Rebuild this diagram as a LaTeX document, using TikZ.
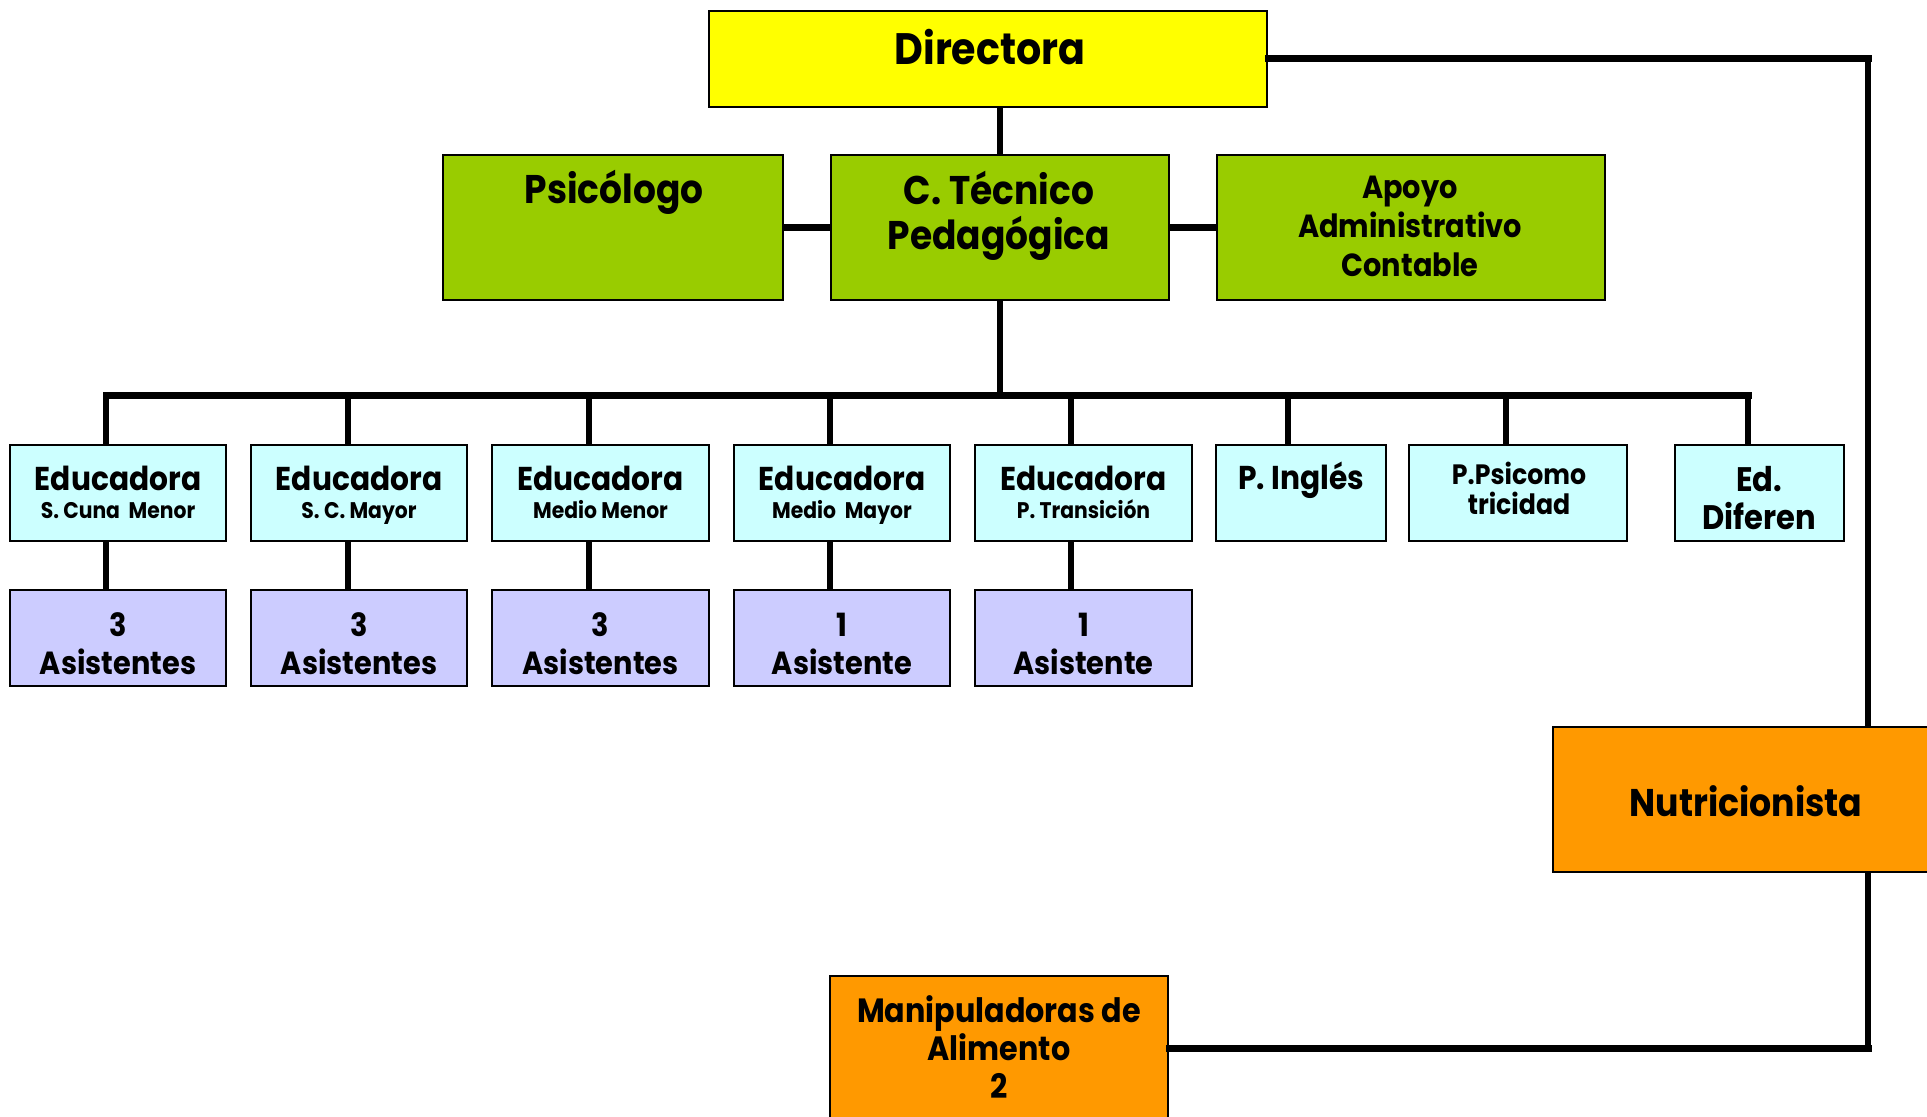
\documentclass[tikz,border=0pt]{standalone}
\usepackage{fontspec}
\setmainfont{Poppins}[FakeStretch=0.9]
\usetikzlibrary{fit}
\definecolor{cyel}{HTML}{FFFF00}
\definecolor{cgrn}{HTML}{99CC00}
\definecolor{ccyn}{HTML}{CCFFFF}
\definecolor{clav}{HTML}{CCCCFF}
\definecolor{corg}{HTML}{FF9900}
\newcommand\fs[1]{\fontsize{#1}{#1}\selectfont\bfseries}
\tikzset{
  box/.style={draw=black, line width=1pt, inner sep=0pt},
  lbl/.style={anchor=base, inner sep=0pt, text=black},
  hline/.style={line width=3.5pt},
  vline/.style={line width=2.6pt},
  rline/.style={line width=3pt},
}
\begin{document}
\begin{tikzpicture}[x=0.5pt,y=-0.5pt]
\clip (0,0) rectangle (1927,1117);
\fill[white] (0,0) rectangle (1927,1117);
% top boxes
\node[box, fill=cyel, fit={(709,11) (1267,107)}] (dir) {};
\node[box, fill=cgrn, fit={(443,155) (783,300)}] (psi) {};
\node[box, fill=cgrn, fit={(831,155) (1169,300)}] (ct) {};
\node[box, fill=cgrn, fit={(1217,155) (1605,300)}] (apo) {};
% row 1
\node[box, fill=ccyn, fit={(10,445) (226,541)}] (e1) {};
\node[box, fill=ccyn, fit={(251,445) (467,541)}] (e2) {};
\node[box, fill=ccyn, fit={(492,445) (709,541)}] (e3) {};
\node[box, fill=ccyn, fit={(734,445) (950,541)}] (e4) {};
\node[box, fill=ccyn, fit={(975,445) (1192,541)}] (e5) {};
\node[box, fill=ccyn, fit={(1216,445) (1386,541)}] (e6) {};
\node[box, fill=ccyn, fit={(1409,445) (1627,541)}] (e7) {};
\node[box, fill=ccyn, fit={(1675,445) (1844,541)}] (e8) {};
% row 2
\node[box, fill=clav, fit={(10,590) (226,686)}] (a1) {};
\node[box, fill=clav, fit={(251,590) (467,686)}] (a2) {};
\node[box, fill=clav, fit={(492,590) (709,686)}] (a3) {};
\node[box, fill=clav, fit={(734,590) (950,686)}] (a4) {};
\node[box, fill=clav, fit={(975,590) (1192,686)}] (a5) {};
% orange
\node[box, fill=corg, fit={(1553,727) (1945,872)}] (nut) {};
\node[box, fill=corg, fit={(830,976) (1168,1125)}] (man) {};
% coordinates
\coordinate (d1) at (106,396);
\coordinate (d2) at (348,396);
\coordinate (d3) at (589,396);
\coordinate (d4) at (830,396);
\coordinate (d5) at (1071,396);
\coordinate (d6) at (1288,396);
\coordinate (d7) at (1506,396);
\coordinate (d8) at (1748,396);
\coordinate (rc) at (1868,59);
\coordinate (rb) at (1868,1048);
% connectors
\draw[vline] (ct.north) -- (ct.north |- dir.south);
\draw[hline] (psi.east) -- (ct.west);
\draw[hline] (ct.east) -- (apo.west);
\draw[vline] (ct.south) -- (ct.south |- d1);
\draw[hline, line cap=rect] (d1) -- (d8);
\foreach \i in {1,...,8}{\draw[vline] (d\i) -- (d\i |- e\i.north);}
\foreach \i in {1,...,5}{\draw[vline] (d\i |- e\i.south) -- (d\i |- a\i.north);}
\draw[hline, line cap=rect] (dir.east |- rc) -- (rc);
\draw[rline] (rc) -- (rc |- nut.north);
\draw[rline] (rc |- nut.south) -- (rb);
\draw[hline, line cap=rect] (rb) -- (rb -| man.east);
% labels
\node[lbl, font=\fs{22}] (tdir) at (990,65) {Directora};
\node[lbl, font=\fs{20}] (tpsi) at (614,204) {Psicólogo};
\node[lbl, font=\fs{20}] (tct1) at (999,205) {C. Técnico};
\node[lbl, font=\fs{20}] (tct2) at (999,250) {Pedagógica};
\node[lbl, font=\fs{16}] (tap1) at (1410,199) {Apoyo};
\node[lbl, font=\fs{16}] (tap2) at (1410,238) {Administrativo};
\node[lbl, font=\fs{16}] (tap3) at (1410,277) {Contable};
\foreach \n/\x/\s in {1/118/{S. Cuna\ \ Menor},2/359/{S. C. Mayor},3/600.5/{Medio Menor},4/842/{Medio\ \ Mayor},5/1083.5/{P. Transición}}{
  \node[lbl, font=\fs{16.5}] (te\n) at (\x,490) {Educadora};
  \node[lbl, font=\fs{11.3}] (ts\n) at (\x,518) {\s};
}
\node[lbl, font=\fs{16.5}] (te6) at (1301,489) {P. Inglés};
\node[lbl, font=\fs{14}] (te7a) at (1519,484) {P.Psicomo};
\node[lbl, font=\fs{14}] (te7b) at (1519,514) {tricidad};
\node[lbl, font=\fs{17}] (te8a) at (1759,491) {Ed.};
\node[lbl, font=\fs{17}] (te8b) at (1759,529) {Diferen};
\foreach \n/\x/\k/\w in {1/118/3/Asistentes,2/359/3/Asistentes,3/600.5/3/Asistentes,4/842/1/Asistente,5/1083.5/1/Asistente}{
  \node[lbl, font=\fs{16}] (tk\n) at (\x,636) {\k};
  \node[lbl, font=\fs{16}] (tw\n) at (\x,674) {\w};
}
\node[lbl, font=\fs{19.3}] (tnut) at (1746,816) {Nutricionista};
\node[lbl, font=\fs{16.8}] (tman1) at (999,1022) {Manipuladoras de};
\node[lbl, font=\fs{16.8}] (tman2) at (999,1060) {Alimento};
\node[lbl, font=\fs{16.8}] (tman3) at (999,1098) {2};
\end{tikzpicture}
\end{document}
